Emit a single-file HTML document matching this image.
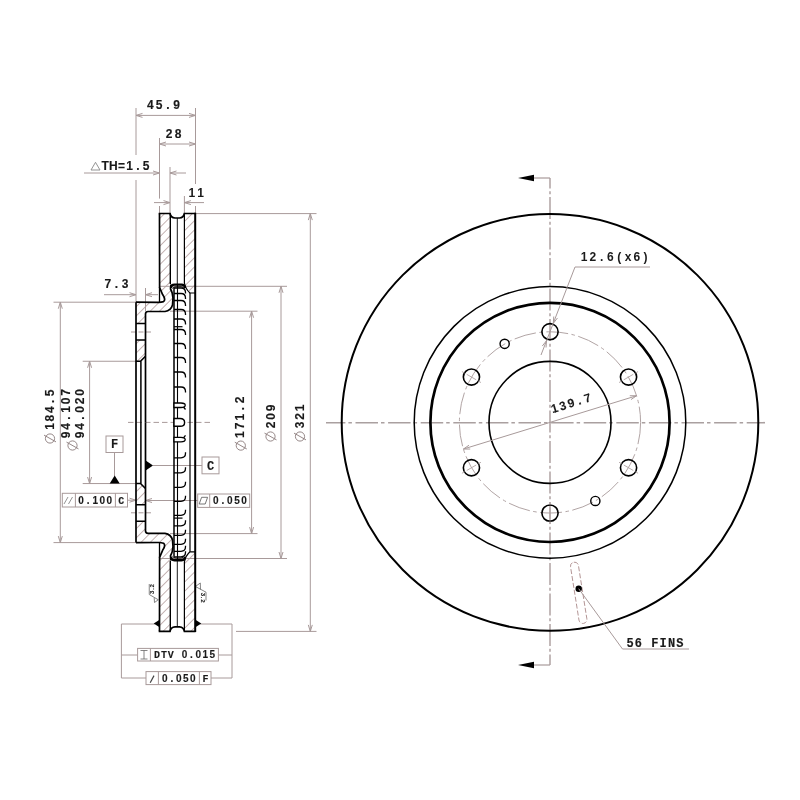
<!DOCTYPE html>
<html><head><meta charset="utf-8"><style>
html,body{margin:0;padding:0;background:#fff;}
svg{display:block;font-family:"Liberation Sans",sans-serif;will-change:transform;}
</style></head><body>
<svg width="800" height="800" viewBox="0 0 800 800">
<defs><pattern id="hatch" patternUnits="userSpaceOnUse" width="6.54" height="10" patternTransform="translate(159.5 227.25) rotate(45)">
<line x1="0" y1="-5" x2="0" y2="15" stroke="#937474" stroke-width="1.1"/></pattern></defs>
<rect width="800" height="800" fill="#fff"/>
<polygon points="159.5,213.5 170,213.5 170,284 171,285 170.5,289 172,292 173,298 172.5,305 171,308.5 165,311.5 148,311.5 145.5,314 145.5,323.5 136,323.5 136,302.2 161.5,302.2 164.5,300.5 162.6,294.5 159.5,287.5" fill="url(#hatch)" stroke="none" stroke-width="0"/>
<polygon points="159.5,631.3 170,631.3 170,560.8 171,559.8 170.5,555.8 172,552.8 173,546.8 172.5,539.8 171,536.3 165,533.3 148,533.3 145.5,530.8 145.5,521.3 136,521.3 136,542.6 161.5,542.6 164.5,544.3 162.6,550.3 159.5,557.3" fill="url(#hatch)" stroke="none" stroke-width="0"/>
<polygon points="136,340 145.5,340 145.5,356.25 140.5,361.25 136,361.25" fill="url(#hatch)" stroke="none" stroke-width="0"/>
<polygon points="136,504.8 145.5,504.8 145.5,488.55 140.5,483.55 136,483.55" fill="url(#hatch)" stroke="none" stroke-width="0"/>
<polygon points="184.4,213.5 195.2,213.5 195.2,293 190,293 188.5,290 184.4,284" fill="url(#hatch)" stroke="none" stroke-width="0"/>
<polygon points="184.4,631.3 195.2,631.3 195.2,551.8 190,551.8 188.5,554.8 184.4,560.8" fill="url(#hatch)" stroke="none" stroke-width="0"/>
<line x1="136" y1="108" x2="136" y2="155" stroke="#a89a9a" stroke-width="1.0" />
<line x1="136" y1="180" x2="136" y2="302" stroke="#a89a9a" stroke-width="1.0" />
<line x1="195.5" y1="108" x2="195.5" y2="184" stroke="#a89a9a" stroke-width="1.0" />
<line x1="195.5" y1="206" x2="195.5" y2="213.5" stroke="#a89a9a" stroke-width="1.0" />
<line x1="136" y1="115.4" x2="195.5" y2="115.4" stroke="#a89a9a" stroke-width="1.0" />
<path d="M142.50,113.40 L136.00,115.40 L142.50,117.40" stroke="#a89a9a" stroke-width="1.0" fill="none"/>
<path d="M189.00,117.40 L195.50,115.40 L189.00,113.40" stroke="#a89a9a" stroke-width="1.0" fill="none"/>
<text x="150.30" y="108.90" font-size="12" text-anchor="middle" font-weight="bold" fill="#1a1a1a" stroke="#1a1a1a" stroke-width="0.15">4</text>
<text x="159.10" y="108.90" font-size="12" text-anchor="middle" font-weight="bold" fill="#1a1a1a" stroke="#1a1a1a" stroke-width="0.15">5</text>
<text x="167.90" y="108.90" font-size="12" text-anchor="middle" font-weight="bold" fill="#1a1a1a" stroke="#1a1a1a" stroke-width="0.15">.</text>
<text x="176.70" y="108.90" font-size="12" text-anchor="middle" font-weight="bold" fill="#1a1a1a" stroke="#1a1a1a" stroke-width="0.15">9</text>
<line x1="159.5" y1="138" x2="159.5" y2="198.6" stroke="#a89a9a" stroke-width="1.0" />
<line x1="159.5" y1="206" x2="159.5" y2="213.5" stroke="#a89a9a" stroke-width="1.0" />
<line x1="159.5" y1="144" x2="195.5" y2="144" stroke="#a89a9a" stroke-width="1.0" />
<path d="M166.00,142.00 L159.50,144.00 L166.00,146.00" stroke="#a89a9a" stroke-width="1.0" fill="none"/>
<path d="M189.00,146.00 L195.50,144.00 L189.00,142.00" stroke="#a89a9a" stroke-width="1.0" fill="none"/>
<text x="169.20" y="138.10" font-size="12" text-anchor="middle" font-weight="bold" fill="#1a1a1a" stroke="#1a1a1a" stroke-width="0.15">2</text>
<text x="178.00" y="138.10" font-size="12" text-anchor="middle" font-weight="bold" fill="#1a1a1a" stroke="#1a1a1a" stroke-width="0.15">8</text>
<line x1="84" y1="173" x2="159.5" y2="173" stroke="#a89a9a" stroke-width="1.0" />
<path d="M153.00,175.00 L159.50,173.00 L153.00,171.00" stroke="#a89a9a" stroke-width="1.0" fill="none"/>
<line x1="170" y1="167" x2="170" y2="213.5" stroke="#a89a9a" stroke-width="1.0" />
<line x1="170" y1="173" x2="186" y2="173" stroke="#a89a9a" stroke-width="1.0" />
<path d="M176.50,171.00 L170.00,173.00 L176.50,175.00" stroke="#a89a9a" stroke-width="1.0" fill="none"/>
<path d="M91,170 L95.5,162.3 L100,170 Z" stroke="#888" stroke-width="0.9" fill="none" />
<text x="105.10" y="170.30" font-size="12" text-anchor="middle" font-weight="bold" fill="#1a1a1a" stroke="#1a1a1a" stroke-width="0.15">T</text>
<text x="113.30" y="170.30" font-size="12" text-anchor="middle" font-weight="bold" fill="#1a1a1a" stroke="#1a1a1a" stroke-width="0.15">H</text>
<text x="121.50" y="170.30" font-size="12" text-anchor="middle" font-weight="bold" fill="#1a1a1a" stroke="#1a1a1a" stroke-width="0.15">=</text>
<text x="129.70" y="170.30" font-size="12" text-anchor="middle" font-weight="bold" fill="#1a1a1a" stroke="#1a1a1a" stroke-width="0.15">1</text>
<text x="137.90" y="170.30" font-size="12" text-anchor="middle" font-weight="bold" fill="#1a1a1a" stroke="#1a1a1a" stroke-width="0.15">.</text>
<text x="146.10" y="170.30" font-size="12" text-anchor="middle" font-weight="bold" fill="#1a1a1a" stroke="#1a1a1a" stroke-width="0.15">5</text>
<line x1="184.4" y1="196" x2="184.4" y2="213.5" stroke="#a89a9a" stroke-width="1.0" />
<line x1="154" y1="202.6" x2="170" y2="202.6" stroke="#a89a9a" stroke-width="1.0" />
<path d="M163.50,204.60 L170.00,202.60 L163.50,200.60" stroke="#a89a9a" stroke-width="1.0" fill="none"/>
<line x1="184.4" y1="202.6" x2="204" y2="202.6" stroke="#a89a9a" stroke-width="1.0" />
<path d="M190.90,200.60 L184.40,202.60 L190.90,204.60" stroke="#a89a9a" stroke-width="1.0" fill="none"/>
<text x="191.80" y="196.60" font-size="12" text-anchor="middle" font-weight="bold" fill="#1a1a1a" stroke="#1a1a1a" stroke-width="0">1</text>
<text x="200.60" y="196.60" font-size="12" text-anchor="middle" font-weight="bold" fill="#1a1a1a" stroke="#1a1a1a" stroke-width="0">1</text>
<line x1="145.5" y1="288" x2="145.5" y2="311" stroke="#a89a9a" stroke-width="1.0" />
<line x1="104" y1="294.7" x2="136" y2="294.7" stroke="#a89a9a" stroke-width="1.0" />
<path d="M129.50,296.70 L136.00,294.70 L129.50,292.70" stroke="#a89a9a" stroke-width="1.0" fill="none"/>
<line x1="145.5" y1="294.7" x2="158" y2="294.7" stroke="#a89a9a" stroke-width="1.0" />
<path d="M152.00,292.70 L145.50,294.70 L152.00,296.70" stroke="#a89a9a" stroke-width="1.0" fill="none"/>
<text x="107.80" y="288.40" font-size="12" text-anchor="middle" font-weight="bold" fill="#1a1a1a" stroke="#1a1a1a" stroke-width="0.15">7</text>
<text x="116.50" y="288.40" font-size="12" text-anchor="middle" font-weight="bold" fill="#1a1a1a" stroke="#1a1a1a" stroke-width="0.15">.</text>
<text x="125.20" y="288.40" font-size="12" text-anchor="middle" font-weight="bold" fill="#1a1a1a" stroke="#1a1a1a" stroke-width="0.15">3</text>
<line x1="195.5" y1="213.6" x2="316.5" y2="213.6" stroke="#a89a9a" stroke-width="1.0" />
<line x1="310.3" y1="213.6" x2="310.3" y2="631.4" stroke="#a89a9a" stroke-width="1.0" />
<path d="M312.30,220.10 L310.30,213.60 L308.30,220.10" stroke="#a89a9a" stroke-width="1.0" fill="none"/>
<path d="M308.30,624.90 L310.30,631.40 L312.30,624.90" stroke="#a89a9a" stroke-width="1.0" fill="none"/>
<line x1="236" y1="631.4" x2="316.5" y2="631.4" stroke="#a89a9a" stroke-width="1.0" />
<line x1="160" y1="286.3" x2="287" y2="286.3" stroke="#a89a9a" stroke-width="1.0" />
<line x1="160" y1="558.5" x2="287" y2="558.5" stroke="#a89a9a" stroke-width="1.0" />
<line x1="281" y1="286.3" x2="281" y2="558.5" stroke="#a89a9a" stroke-width="1.0" />
<path d="M283.00,292.80 L281.00,286.30 L279.00,292.80" stroke="#a89a9a" stroke-width="1.0" fill="none"/>
<path d="M279.00,552.00 L281.00,558.50 L283.00,552.00" stroke="#a89a9a" stroke-width="1.0" fill="none"/>
<line x1="170" y1="311.2" x2="257.5" y2="311.2" stroke="#a89a9a" stroke-width="1.0" />
<line x1="170" y1="533.6" x2="257.5" y2="533.6" stroke="#a89a9a" stroke-width="1.0" />
<line x1="251.6" y1="311.2" x2="251.6" y2="533.6" stroke="#a89a9a" stroke-width="1.0" />
<path d="M253.60,317.70 L251.60,311.20 L249.60,317.70" stroke="#a89a9a" stroke-width="1.0" fill="none"/>
<path d="M249.60,527.10 L251.60,533.60 L253.60,527.10" stroke="#a89a9a" stroke-width="1.0" fill="none"/>
<text x="304.00" y="425.00" font-size="12" text-anchor="middle" font-weight="bold" fill="#1a1a1a" stroke="#1a1a1a" stroke-width="0.15" transform="rotate(-90 304.00 425.00)">3</text>
<text x="304.00" y="416.50" font-size="12" text-anchor="middle" font-weight="bold" fill="#1a1a1a" stroke="#1a1a1a" stroke-width="0.15" transform="rotate(-90 304.00 416.50)">2</text>
<text x="304.00" y="408.00" font-size="12" text-anchor="middle" font-weight="bold" fill="#1a1a1a" stroke="#1a1a1a" stroke-width="0.15" transform="rotate(-90 304.00 408.00)">1</text>
<circle cx="300" cy="436.5" r="4.6" fill="none" stroke="#8a7a7a" stroke-width="0.9"/>
<line x1="294" y1="433.1" x2="306" y2="439.9" stroke="#8a7a7a" stroke-width="0.9"/>
<text x="274.50" y="425.00" font-size="12" text-anchor="middle" font-weight="bold" fill="#1a1a1a" stroke="#1a1a1a" stroke-width="0.15" transform="rotate(-90 274.50 425.00)">2</text>
<text x="274.50" y="416.50" font-size="12" text-anchor="middle" font-weight="bold" fill="#1a1a1a" stroke="#1a1a1a" stroke-width="0.15" transform="rotate(-90 274.50 416.50)">0</text>
<text x="274.50" y="408.00" font-size="12" text-anchor="middle" font-weight="bold" fill="#1a1a1a" stroke="#1a1a1a" stroke-width="0.15" transform="rotate(-90 274.50 408.00)">9</text>
<circle cx="270.5" cy="436.5" r="4.6" fill="none" stroke="#8a7a7a" stroke-width="0.9"/>
<line x1="264.5" y1="433.1" x2="276.5" y2="439.9" stroke="#8a7a7a" stroke-width="0.9"/>
<text x="244.40" y="434.60" font-size="12" text-anchor="middle" font-weight="bold" fill="#1a1a1a" stroke="#1a1a1a" stroke-width="0.15" transform="rotate(-90 244.40 434.60)">1</text>
<text x="244.40" y="425.90" font-size="12" text-anchor="middle" font-weight="bold" fill="#1a1a1a" stroke="#1a1a1a" stroke-width="0.15" transform="rotate(-90 244.40 425.90)">7</text>
<text x="244.40" y="417.20" font-size="12" text-anchor="middle" font-weight="bold" fill="#1a1a1a" stroke="#1a1a1a" stroke-width="0.15" transform="rotate(-90 244.40 417.20)">1</text>
<text x="244.40" y="408.50" font-size="12" text-anchor="middle" font-weight="bold" fill="#1a1a1a" stroke="#1a1a1a" stroke-width="0.15" transform="rotate(-90 244.40 408.50)">.</text>
<text x="244.40" y="399.80" font-size="12" text-anchor="middle" font-weight="bold" fill="#1a1a1a" stroke="#1a1a1a" stroke-width="0.15" transform="rotate(-90 244.40 399.80)">2</text>
<circle cx="240.8" cy="445.6" r="4.6" fill="none" stroke="#8a7a7a" stroke-width="0.9"/>
<line x1="234.8" y1="442.20000000000005" x2="246.8" y2="449.0" stroke="#8a7a7a" stroke-width="0.9"/>
<line x1="53.5" y1="302.2" x2="136" y2="302.2" stroke="#a89a9a" stroke-width="1.0" />
<line x1="53.5" y1="542.6" x2="136" y2="542.6" stroke="#a89a9a" stroke-width="1.0" />
<line x1="60.3" y1="302.2" x2="60.3" y2="542.6" stroke="#a89a9a" stroke-width="1.0" />
<path d="M62.30,308.70 L60.30,302.20 L58.30,308.70" stroke="#a89a9a" stroke-width="1.0" fill="none"/>
<path d="M58.30,536.10 L60.30,542.60 L62.30,536.10" stroke="#a89a9a" stroke-width="1.0" fill="none"/>
<line x1="82.7" y1="361.25" x2="136" y2="361.25" stroke="#a89a9a" stroke-width="1.0" />
<line x1="82.7" y1="483.55" x2="136" y2="483.55" stroke="#a89a9a" stroke-width="1.0" />
<line x1="89.6" y1="361.25" x2="89.6" y2="483.55" stroke="#a89a9a" stroke-width="1.0" />
<path d="M91.60,367.75 L89.60,361.25 L87.60,367.75" stroke="#a89a9a" stroke-width="1.0" fill="none"/>
<path d="M87.60,477.05 L89.60,483.55 L91.60,477.05" stroke="#a89a9a" stroke-width="1.0" fill="none"/>
<text x="54.00" y="426.50" font-size="12" text-anchor="middle" font-weight="bold" fill="#1a1a1a" stroke="#1a1a1a" stroke-width="0.15" transform="rotate(-90 54.00 426.50)">1</text>
<text x="54.00" y="418.10" font-size="12" text-anchor="middle" font-weight="bold" fill="#1a1a1a" stroke="#1a1a1a" stroke-width="0.15" transform="rotate(-90 54.00 418.10)">8</text>
<text x="54.00" y="409.70" font-size="12" text-anchor="middle" font-weight="bold" fill="#1a1a1a" stroke="#1a1a1a" stroke-width="0.15" transform="rotate(-90 54.00 409.70)">4</text>
<text x="54.00" y="401.30" font-size="12" text-anchor="middle" font-weight="bold" fill="#1a1a1a" stroke="#1a1a1a" stroke-width="0.15" transform="rotate(-90 54.00 401.30)">.</text>
<text x="54.00" y="392.90" font-size="12" text-anchor="middle" font-weight="bold" fill="#1a1a1a" stroke="#1a1a1a" stroke-width="0.15" transform="rotate(-90 54.00 392.90)">5</text>
<circle cx="50" cy="438.5" r="4.6" fill="none" stroke="#8a7a7a" stroke-width="0.9"/>
<line x1="44" y1="435.1" x2="56" y2="441.9" stroke="#8a7a7a" stroke-width="0.9"/>
<text x="69.50" y="435.00" font-size="12" text-anchor="middle" font-weight="bold" fill="#1a1a1a" stroke="#1a1a1a" stroke-width="0.15" transform="rotate(-90 69.50 435.00)">9</text>
<text x="69.50" y="426.50" font-size="12" text-anchor="middle" font-weight="bold" fill="#1a1a1a" stroke="#1a1a1a" stroke-width="0.15" transform="rotate(-90 69.50 426.50)">4</text>
<text x="69.50" y="418.00" font-size="12" text-anchor="middle" font-weight="bold" fill="#1a1a1a" stroke="#1a1a1a" stroke-width="0.15" transform="rotate(-90 69.50 418.00)">.</text>
<text x="69.50" y="409.50" font-size="12" text-anchor="middle" font-weight="bold" fill="#1a1a1a" stroke="#1a1a1a" stroke-width="0.15" transform="rotate(-90 69.50 409.50)">1</text>
<text x="69.50" y="401.00" font-size="12" text-anchor="middle" font-weight="bold" fill="#1a1a1a" stroke="#1a1a1a" stroke-width="0.15" transform="rotate(-90 69.50 401.00)">0</text>
<text x="69.50" y="392.50" font-size="12" text-anchor="middle" font-weight="bold" fill="#1a1a1a" stroke="#1a1a1a" stroke-width="0.15" transform="rotate(-90 69.50 392.50)">7</text>
<text x="83.50" y="435.00" font-size="12" text-anchor="middle" font-weight="bold" fill="#1a1a1a" stroke="#1a1a1a" stroke-width="0.15" transform="rotate(-90 83.50 435.00)">9</text>
<text x="83.50" y="426.50" font-size="12" text-anchor="middle" font-weight="bold" fill="#1a1a1a" stroke="#1a1a1a" stroke-width="0.15" transform="rotate(-90 83.50 426.50)">4</text>
<text x="83.50" y="418.00" font-size="12" text-anchor="middle" font-weight="bold" fill="#1a1a1a" stroke="#1a1a1a" stroke-width="0.15" transform="rotate(-90 83.50 418.00)">.</text>
<text x="83.50" y="409.50" font-size="12" text-anchor="middle" font-weight="bold" fill="#1a1a1a" stroke="#1a1a1a" stroke-width="0.15" transform="rotate(-90 83.50 409.50)">0</text>
<text x="83.50" y="401.00" font-size="12" text-anchor="middle" font-weight="bold" fill="#1a1a1a" stroke="#1a1a1a" stroke-width="0.15" transform="rotate(-90 83.50 401.00)">2</text>
<text x="83.50" y="392.50" font-size="12" text-anchor="middle" font-weight="bold" fill="#1a1a1a" stroke="#1a1a1a" stroke-width="0.15" transform="rotate(-90 83.50 392.50)">0</text>
<circle cx="72.5" cy="445.5" r="4.6" fill="none" stroke="#8a7a7a" stroke-width="0.9"/>
<line x1="66.5" y1="442.1" x2="78.5" y2="448.9" stroke="#8a7a7a" stroke-width="0.9"/>
<rect x="106" y="436" width="17" height="16.5" fill="#fff" stroke="#a89a9a" stroke-width="1"/>
<text x="114.50" y="448.40" font-size="12" text-anchor="middle" font-weight="bold" fill="#1a1a1a" stroke="#1a1a1a" stroke-width="0.15" font-family="Liberation Mono">F</text>
<line x1="114.5" y1="452.5" x2="114.5" y2="476" stroke="#a89a9a" stroke-width="1.0" />
<polygon points="114.7,475.6 109.7,483.55 119.7,483.55" fill="#000" stroke="none" stroke-width="0"/>
<rect x="62.3" y="493.3" width="65.2" height="13.7" fill="#fff" stroke="#a89a9a" stroke-width="1"/>
<line x1="75.4" y1="493.3" x2="75.4" y2="507" stroke="#a89a9a" stroke-width="1.0" />
<line x1="115.4" y1="493.3" x2="115.4" y2="507" stroke="#a89a9a" stroke-width="1.0" />
<path d="M64,504 L68,497 M68.5,504 L72.5,497" stroke="#888" stroke-width="0.9" fill="none" />
<text x="81.00" y="503.80" font-size="10" text-anchor="middle" font-weight="bold" fill="#1a1a1a" stroke="#1a1a1a" stroke-width="0.12">0</text>
<text x="88.10" y="503.80" font-size="10" text-anchor="middle" font-weight="bold" fill="#1a1a1a" stroke="#1a1a1a" stroke-width="0.12">.</text>
<text x="95.20" y="503.80" font-size="10" text-anchor="middle" font-weight="bold" fill="#1a1a1a" stroke="#1a1a1a" stroke-width="0.12">1</text>
<text x="102.30" y="503.80" font-size="10" text-anchor="middle" font-weight="bold" fill="#1a1a1a" stroke="#1a1a1a" stroke-width="0.12">0</text>
<text x="109.40" y="503.80" font-size="10" text-anchor="middle" font-weight="bold" fill="#1a1a1a" stroke="#1a1a1a" stroke-width="0.12">0</text>
<text x="121.25" y="503.80" font-size="10" text-anchor="middle" font-weight="bold" fill="#1a1a1a" stroke="#1a1a1a" stroke-width="0.12" font-family="Liberation Mono">C</text>
<line x1="127.5" y1="500.2" x2="136" y2="500.2" stroke="#a89a9a" stroke-width="1.0" />
<path d="M129.50,502.20 L136.00,500.20 L129.50,498.20" stroke="#a89a9a" stroke-width="1.0" fill="none"/>
<rect x="197.7" y="494" width="52" height="13.4" fill="#fff" stroke="#a89a9a" stroke-width="1"/>
<line x1="209.7" y1="494" x2="209.7" y2="507.4" stroke="#a89a9a" stroke-width="1.0" />
<path d="M199.2,504 L201.6,497.3 L207.6,497.3 L205.2,504 Z" stroke="#666" stroke-width="0.9" fill="none" />
<text x="215.70" y="504.00" font-size="10" text-anchor="middle" font-weight="bold" fill="#1a1a1a" stroke="#1a1a1a" stroke-width="0.12">0</text>
<text x="222.80" y="504.00" font-size="10" text-anchor="middle" font-weight="bold" fill="#1a1a1a" stroke="#1a1a1a" stroke-width="0.12">.</text>
<text x="229.90" y="504.00" font-size="10" text-anchor="middle" font-weight="bold" fill="#1a1a1a" stroke="#1a1a1a" stroke-width="0.12">0</text>
<text x="237.00" y="504.00" font-size="10" text-anchor="middle" font-weight="bold" fill="#1a1a1a" stroke="#1a1a1a" stroke-width="0.12">5</text>
<text x="244.10" y="504.00" font-size="10" text-anchor="middle" font-weight="bold" fill="#1a1a1a" stroke="#1a1a1a" stroke-width="0.12">0</text>
<line x1="145.5" y1="500.5" x2="197.7" y2="500.5" stroke="#a89a9a" stroke-width="1.0" />
<path d="M152.00,498.50 L145.50,500.50 L152.00,502.50" stroke="#a89a9a" stroke-width="1.0" fill="none"/>
<polygon points="145.7,460.5 145.7,470.5 153,465.5" fill="#000" stroke="none" stroke-width="0"/>
<line x1="153" y1="465.5" x2="202" y2="465.5" stroke="#a89a9a" stroke-width="1.0" />
<rect x="202" y="457" width="17" height="16.8" fill="#fff" stroke="#a89a9a" stroke-width="1"/>
<text x="210.50" y="469.50" font-size="12" text-anchor="middle" font-weight="bold" fill="#1a1a1a" stroke="#1a1a1a" stroke-width="0.15" font-family="Liberation Mono">C</text>
<line x1="121.4" y1="624" x2="155" y2="624" stroke="#a89a9a" stroke-width="1.0" />
<line x1="200" y1="624" x2="232" y2="624" stroke="#a89a9a" stroke-width="1.0" />
<line x1="121.4" y1="624" x2="121.4" y2="678" stroke="#a89a9a" stroke-width="1.0" />
<line x1="232" y1="624" x2="232" y2="678" stroke="#a89a9a" stroke-width="1.0" />
<line x1="121.4" y1="655" x2="137.6" y2="655" stroke="#a89a9a" stroke-width="1.0" />
<line x1="218.4" y1="655" x2="232" y2="655" stroke="#a89a9a" stroke-width="1.0" />
<rect x="137.6" y="648.4" width="80.8" height="12.6" fill="#fff" stroke="#a89a9a" stroke-width="1"/>
<line x1="150.4" y1="648.4" x2="150.4" y2="661" stroke="#a89a9a" stroke-width="1.0" />
<path d="M140.5,650.5 L147.5,650.5 M144,650.5 L144,659 M140.5,659 L147.5,659" stroke="#666" stroke-width="0.8" fill="none" />
<text x="157.00" y="658.30" font-size="10" text-anchor="middle" font-weight="bold" fill="#1a1a1a" stroke="#1a1a1a" stroke-width="0.12" font-family="Liberation Mono">D</text>
<text x="163.90" y="658.30" font-size="10" text-anchor="middle" font-weight="bold" fill="#1a1a1a" stroke="#1a1a1a" stroke-width="0.12" font-family="Liberation Mono">T</text>
<text x="170.80" y="658.30" font-size="10" text-anchor="middle" font-weight="bold" fill="#1a1a1a" stroke="#1a1a1a" stroke-width="0.12" font-family="Liberation Mono">V</text>
<text x="184.60" y="658.30" font-size="10" text-anchor="middle" font-weight="bold" fill="#1a1a1a" stroke="#1a1a1a" stroke-width="0.12">0</text>
<text x="191.50" y="658.30" font-size="10" text-anchor="middle" font-weight="bold" fill="#1a1a1a" stroke="#1a1a1a" stroke-width="0.12">.</text>
<text x="198.40" y="658.30" font-size="10" text-anchor="middle" font-weight="bold" fill="#1a1a1a" stroke="#1a1a1a" stroke-width="0.12">0</text>
<text x="205.30" y="658.30" font-size="10" text-anchor="middle" font-weight="bold" fill="#1a1a1a" stroke="#1a1a1a" stroke-width="0.12">1</text>
<text x="212.20" y="658.30" font-size="10" text-anchor="middle" font-weight="bold" fill="#1a1a1a" stroke="#1a1a1a" stroke-width="0.12">5</text>
<line x1="121.4" y1="678" x2="146" y2="678" stroke="#a89a9a" stroke-width="1.0" />
<line x1="211" y1="678" x2="232" y2="678" stroke="#a89a9a" stroke-width="1.0" />
<rect x="146" y="671.6" width="65" height="13" fill="#fff" stroke="#a89a9a" stroke-width="1"/>
<line x1="158.4" y1="671.6" x2="158.4" y2="684.6" stroke="#a89a9a" stroke-width="1.0" />
<line x1="199.4" y1="671.6" x2="199.4" y2="684.6" stroke="#a89a9a" stroke-width="1.0" />
<path d="M150.2,682.8 L154,675.6" stroke="#444" stroke-width="1.2" fill="none" />
<text x="164.80" y="681.70" font-size="10" text-anchor="middle" font-weight="bold" fill="#1a1a1a" stroke="#1a1a1a" stroke-width="0.12">0</text>
<text x="171.80" y="681.70" font-size="10" text-anchor="middle" font-weight="bold" fill="#1a1a1a" stroke="#1a1a1a" stroke-width="0.12">.</text>
<text x="178.80" y="681.70" font-size="10" text-anchor="middle" font-weight="bold" fill="#1a1a1a" stroke="#1a1a1a" stroke-width="0.12">0</text>
<text x="185.80" y="681.70" font-size="10" text-anchor="middle" font-weight="bold" fill="#1a1a1a" stroke="#1a1a1a" stroke-width="0.12">5</text>
<text x="192.80" y="681.70" font-size="10" text-anchor="middle" font-weight="bold" fill="#1a1a1a" stroke="#1a1a1a" stroke-width="0.12">0</text>
<text x="205.60" y="681.70" font-size="10" text-anchor="middle" font-weight="bold" fill="#1a1a1a" stroke="#1a1a1a" stroke-width="0.12" font-family="Liberation Mono">F</text>
<polygon points="160,619.5 160,627.5 153.7,623.5" fill="#000" stroke="none" stroke-width="0"/>
<polygon points="195,619.5 195,627.5 201.3,623.5" fill="#000" stroke="none" stroke-width="0"/>
<path d="M149.25,584 L149.25,594.5 L158.25,599.75 M154.2,597.8 L154.5,602.5 L158.25,599.75" stroke="#666" stroke-width="0.8" fill="none" />
<path d="M206,600.5 L206,592.2 L195.4,586.5 M200.3,583 L200.5,589.5 M195.4,586.5 L200.3,583" stroke="#666" stroke-width="0.8" fill="none" />
<text x="154.20" y="592.30" font-size="6" text-anchor="middle" font-weight="bold" fill="#222" stroke="#222" stroke-width="0.12" transform="rotate(-90 154.20 592.30)">3</text>
<text x="154.20" y="589.00" font-size="6" text-anchor="middle" font-weight="bold" fill="#222" stroke="#222" stroke-width="0.12" transform="rotate(-90 154.20 589.00)">.</text>
<text x="154.20" y="585.70" font-size="6" text-anchor="middle" font-weight="bold" fill="#222" stroke="#222" stroke-width="0.12" transform="rotate(-90 154.20 585.70)">2</text>
<text x="201.00" y="594.30" font-size="6" text-anchor="middle" font-weight="bold" fill="#222" stroke="#222" stroke-width="0.12" transform="rotate(90 201.00 594.30)">3</text>
<text x="201.00" y="597.60" font-size="6" text-anchor="middle" font-weight="bold" fill="#222" stroke="#222" stroke-width="0.12" transform="rotate(90 201.00 597.60)">.</text>
<text x="201.00" y="600.90" font-size="6" text-anchor="middle" font-weight="bold" fill="#222" stroke="#222" stroke-width="0.12" transform="rotate(90 201.00 600.90)">2</text>
<line x1="131" y1="332" x2="151" y2="332" stroke="#a89a9a" stroke-width="1" stroke-dasharray="5,2.5"/>
<line x1="131" y1="512.8" x2="151" y2="512.8" stroke="#a89a9a" stroke-width="1" stroke-dasharray="5,2.5"/>
<line x1="128" y1="422.4" x2="212.5" y2="422.4" stroke="#a89a9a" stroke-width="1" stroke-dasharray="5.5,3"/>
<path d="M159.5,213.5 L159.6,287.5 L162.6,294.5 Q166.2,299.5 163.5,301.6 Q161,302.4 158,302.3 L136,302.2" stroke="#000" stroke-width="1.7" fill="none" />
<path d="M159.5,287 L159.5,302.2" stroke="#000" stroke-width="1.3" fill="none" />
<path d="M158.7,213.5 L170,213.5 Q170.8,217.8 175,218 L179.5,218 Q183.6,217.8 184.4,213.5 L195.6,213.5" stroke="#000" stroke-width="1.7" fill="none" />
<path d="M170.3,213.5 L170.3,284" stroke="#000" stroke-width="1.4" fill="none" />
<path d="M177.3,218 L177.3,284" stroke="#000" stroke-width="0.9" fill="none" />
<path d="M184.4,213.5 L184.4,283 Q185.5,289 190,293 L195,293" stroke="#000" stroke-width="1.2" fill="none" />
<path d="M136,361.25 L140.5,361.25 L145.5,356.25" stroke="#000" stroke-width="1.6" fill="none" />
<path d="M145.5,422.4 L145.5,314 Q145.5,311.5 148,311.5 L165,311.5 Q171,310.5 172.5,305 L173,298 Q172.5,292 170.5,289 L171,284.5" stroke="#000" stroke-width="1.7" fill="none" />
<path d="M136,323.5 L145.5,323.5 M136,340 L145.5,340" stroke="#000" stroke-width="1.4" fill="none" />
<path d="M171,288 Q171,284.6 174.5,284.6 L181.5,284.6 Q185,284.6 185,288" stroke="#000" stroke-width="2.4" fill="none" />
<path d="M172.5,288.5 Q173.5,286.8 176,286.8 L181,286.8 Q183.5,286.8 184,288.5" stroke="#000" stroke-width="1.0" fill="none" />
<path d="M174,288 L181,288 Q185.5,288 185.5,292.5 L185.5,293.5" stroke="#000" stroke-width="1.3" fill="none" />
<path d="M174,293.5 L181,293.5 Q185.5,293.5 185.5,298.0 L185.5,299.0" stroke="#000" stroke-width="1.3" fill="none" />
<path d="M174,300.5 L181,300.5 Q185.5,300.5 185.5,305.0 L185.5,306.0" stroke="#000" stroke-width="1.3" fill="none" />
<path d="M174,309.5 L181,309.5 Q185.5,309.5 185.5,314.0 L185.5,315.0" stroke="#000" stroke-width="1.3" fill="none" />
<path d="M174,319 L181,319 Q185.5,319 185.5,323.5 L185.5,324.5" stroke="#000" stroke-width="1.3" fill="none" />
<path d="M174,329.5 L181,329.5 Q185.5,329.5 185.5,334.0 L185.5,335.0" stroke="#000" stroke-width="1.3" fill="none" />
<path d="M174,343.5 L181,343.5 Q185.5,343.5 185.5,348.0 L185.5,349.0" stroke="#000" stroke-width="1.3" fill="none" />
<path d="M174,357.5 L181,357.5 Q185.5,357.5 185.5,362.0 L185.5,363.0" stroke="#000" stroke-width="1.3" fill="none" />
<path d="M174,372 L181,372 Q185.5,372 185.5,376.5 L185.5,377.5" stroke="#000" stroke-width="1.3" fill="none" />
<path d="M174,387 L181,387 Q185.5,387 185.5,391.5 L185.5,392.5" stroke="#000" stroke-width="1.3" fill="none" />
<path d="M174,326.7 L182.5,326.7" stroke="#000" stroke-width="1.2" fill="none" />
<path d="M159.5,631.3 L159.6,557.3 L162.6,550.3 Q166.2,545.3 163.5,543.2 Q161,542.4 158,542.5 L136,542.6" stroke="#000" stroke-width="1.7" fill="none" />
<path d="M159.5,557.8 L159.5,542.6" stroke="#000" stroke-width="1.3" fill="none" />
<path d="M158.7,631.3 L170,631.3 Q170.8,627.0 175,626.8 L179.5,626.8 Q183.6,627.0 184.4,631.3 L195.6,631.3" stroke="#000" stroke-width="1.7" fill="none" />
<path d="M170.3,631.3 L170.3,560.8" stroke="#000" stroke-width="1.4" fill="none" />
<path d="M177.3,626.8 L177.3,560.8" stroke="#000" stroke-width="0.9" fill="none" />
<path d="M184.4,631.3 L184.4,561.8 Q185.5,555.8 190,551.8 L195,551.8" stroke="#000" stroke-width="1.2" fill="none" />
<path d="M136,483.55 L140.5,483.55 L145.5,488.55" stroke="#000" stroke-width="1.6" fill="none" />
<path d="M145.5,422.4 L145.5,530.8 Q145.5,533.3 148,533.3 L165,533.3 Q171,534.3 172.5,539.8 L173,546.8 Q172.5,552.8 170.5,555.8 L171,560.3" stroke="#000" stroke-width="1.7" fill="none" />
<path d="M136,521.3 L145.5,521.3 M136,504.8 L145.5,504.8" stroke="#000" stroke-width="1.4" fill="none" />
<path d="M171,556.8 Q171,560.2 174.5,560.2 L181.5,560.2 Q185,560.2 185,556.8" stroke="#000" stroke-width="2.4" fill="none" />
<path d="M172.5,556.3 Q173.5,558.0 176,558.0 L181,558.0 Q183.5,558.0 184,556.3" stroke="#000" stroke-width="1.0" fill="none" />
<path d="M174,556.8 L181,556.8 Q185.5,556.8 185.5,552.3 L185.5,551.3" stroke="#000" stroke-width="1.3" fill="none" />
<path d="M174,551.3 L181,551.3 Q185.5,551.3 185.5,546.8 L185.5,545.8" stroke="#000" stroke-width="1.3" fill="none" />
<path d="M174,544.3 L181,544.3 Q185.5,544.3 185.5,539.8 L185.5,538.8" stroke="#000" stroke-width="1.3" fill="none" />
<path d="M174,535.3 L181,535.3 Q185.5,535.3 185.5,530.8 L185.5,529.8" stroke="#000" stroke-width="1.3" fill="none" />
<path d="M174,525.8 L181,525.8 Q185.5,525.8 185.5,521.3 L185.5,520.3" stroke="#000" stroke-width="1.3" fill="none" />
<path d="M174,515.3 L181,515.3 Q185.5,515.3 185.5,510.8 L185.5,509.8" stroke="#000" stroke-width="1.3" fill="none" />
<path d="M174,501.3 L181,501.3 Q185.5,501.3 185.5,496.8 L185.5,495.8" stroke="#000" stroke-width="1.3" fill="none" />
<path d="M174,487.3 L181,487.3 Q185.5,487.3 185.5,482.8 L185.5,481.8" stroke="#000" stroke-width="1.3" fill="none" />
<path d="M174,472.8 L181,472.8 Q185.5,472.8 185.5,468.3 L185.5,467.3" stroke="#000" stroke-width="1.3" fill="none" />
<path d="M174,457.8 L181,457.8 Q185.5,457.8 185.5,453.3 L185.5,452.3" stroke="#000" stroke-width="1.3" fill="none" />
<path d="M174,518.1 L182.5,518.1" stroke="#000" stroke-width="1.2" fill="none" />
<path d="M136,302.2 L136,542.6" stroke="#000" stroke-width="1.7" fill="none" />
<path d="M140.9,361.25 L140.9,483.55" stroke="#000" stroke-width="1.5" fill="none" />
<path d="M174,288 L174,556.8" stroke="#000" stroke-width="1.5" fill="none" />
<path d="M177.5,284.5 L177.5,560.3" stroke="#000" stroke-width="1.1" fill="none" />
<path d="M190,293 L190,551.8" stroke="#000" stroke-width="1.2" fill="none" />
<path d="M195.2,212.7 L195.2,632.1" stroke="#000" stroke-width="2.0" fill="none" />
<path d="M174,418.5 L180,418.5 Q184.6,418.5 184.6,422.4 Q184.6,426.3 180,426.3 L174,426.3 Z" stroke="#000" stroke-width="1.4" fill="#fff" />
<path d="M174,403 L181,403 Q185.2,403 185.2,405.2 Q185.2,407.5 181,407.5 L174,407.5 Z" stroke="#000" stroke-width="1.3" fill="#fff" />
<path d="M183.5,407 L185.5,409.5" stroke="#000" stroke-width="1.3" fill="none" />
<path d="M174,441.8 L181,441.8 Q185.2,441.8 185.2,439.6 Q185.2,437.3 181,437.3 L174,437.3 Z" stroke="#000" stroke-width="1.3" fill="#fff" />
<path d="M183.5,437.8 L185.5,435.3" stroke="#000" stroke-width="1.3" fill="none" />
<line x1="326" y1="422.7" x2="765" y2="422.7" stroke="#aaa0a0" stroke-width="1.6" stroke-dasharray="22.5,3,3.5,3.6" stroke-dashoffset="3.1"/>
<line x1="550" y1="178" x2="550" y2="665" stroke="#aa9c9c" stroke-width="1.4" stroke-dasharray="22,2.7,3,2.8" stroke-dashoffset="11.5"/>
<circle cx="550" cy="422.4" r="90.6" fill="none" stroke="#a89a9a" stroke-width="0.9" stroke-dasharray="22,3.5,3.5,3.5"/>
<circle cx="550" cy="422.4" r="208.3" fill="none" stroke="#000" stroke-width="2"/>
<circle cx="550" cy="422.4" r="135.8" fill="none" stroke="#000" stroke-width="1.5"/>
<circle cx="550" cy="422.4" r="119.6" fill="none" stroke="#000" stroke-width="2.7"/>
<circle cx="550" cy="422.4" r="61" fill="none" stroke="#000" stroke-width="1.6"/>
<circle cx="550.00" cy="331.70" r="8.1" fill="none" stroke="#000" stroke-width="1.6"/>
<circle cx="628.55" cy="377.05" r="8.1" fill="none" stroke="#000" stroke-width="1.6"/>
<line x1="619.02" y1="382.55" x2="638.07" y2="371.55" stroke="#b0a4a4" stroke-width="0.9" stroke-dasharray="3,2.5,11,2.5,3"/>
<circle cx="628.55" cy="467.75" r="8.1" fill="none" stroke="#000" stroke-width="1.6"/>
<line x1="619.02" y1="462.25" x2="638.07" y2="473.25" stroke="#b0a4a4" stroke-width="0.9" stroke-dasharray="3,2.5,11,2.5,3"/>
<circle cx="550.00" cy="513.10" r="8.1" fill="none" stroke="#000" stroke-width="1.6"/>
<line x1="550.00" y1="502.10" x2="550.00" y2="524.10" stroke="#b0a4a4" stroke-width="0.9" stroke-dasharray="3,2.5,11,2.5,3"/>
<circle cx="471.45" cy="467.75" r="8.1" fill="none" stroke="#000" stroke-width="1.6"/>
<line x1="480.98" y1="462.25" x2="461.93" y2="473.25" stroke="#b0a4a4" stroke-width="0.9" stroke-dasharray="3,2.5,11,2.5,3"/>
<circle cx="471.45" cy="377.05" r="8.1" fill="none" stroke="#000" stroke-width="1.6"/>
<line x1="480.98" y1="382.55" x2="461.93" y2="371.55" stroke="#b0a4a4" stroke-width="0.9" stroke-dasharray="3,2.5,11,2.5,3"/>
<circle cx="504.65" cy="343.85" r="4.6" fill="none" stroke="#000" stroke-width="1.4"/>
<circle cx="595.35" cy="500.95" r="4.6" fill="none" stroke="#000" stroke-width="1.4"/>
<line x1="550" y1="178" x2="534" y2="178" stroke="#a89a9a" stroke-width="1.2" />
<polygon points="518.00,178.00 534.00,174.70 534.00,181.30" fill="#000"/>
<line x1="550" y1="665" x2="534" y2="665" stroke="#a89a9a" stroke-width="1.2" />
<polygon points="518.00,665.00 534.00,661.70 534.00,668.30" fill="#000"/>
<line x1="463.41" y1="449.04" x2="636.59" y2="395.76" stroke="#a89a9a" stroke-width="1.0" />
<path d="M469.03,445.22 L463.41,449.04 L470.21,449.04" stroke="#a89a9a" stroke-width="1.0" fill="none"/>
<path d="M630.97,399.58 L636.59,395.76 L629.79,395.76" stroke="#a89a9a" stroke-width="1.0" fill="none"/>
<text x="555.80" y="412.20" font-size="12" text-anchor="middle" font-weight="bold" fill="#1a1a1a" stroke="#1a1a1a" stroke-width="0.1" transform="rotate(-17.1 555.80 412.20)">1</text>
<text x="564.02" y="409.67" font-size="12" text-anchor="middle" font-weight="bold" fill="#1a1a1a" stroke="#1a1a1a" stroke-width="0.1" transform="rotate(-17.1 564.02 409.67)">3</text>
<text x="572.24" y="407.14" font-size="12" text-anchor="middle" font-weight="bold" fill="#1a1a1a" stroke="#1a1a1a" stroke-width="0.1" transform="rotate(-17.1 572.24 407.14)">9</text>
<text x="580.46" y="404.61" font-size="12" text-anchor="middle" font-weight="bold" fill="#1a1a1a" stroke="#1a1a1a" stroke-width="0.1" transform="rotate(-17.1 580.46 404.61)">.</text>
<text x="588.68" y="402.09" font-size="12" text-anchor="middle" font-weight="bold" fill="#1a1a1a" stroke="#1a1a1a" stroke-width="0.1" transform="rotate(-17.1 588.68 402.09)">7</text>
<line x1="575" y1="267" x2="541" y2="355" stroke="#a89a9a" stroke-width="1.0" />
<line x1="575" y1="267" x2="650" y2="267" stroke="#a89a9a" stroke-width="1.0" />
<path d="M553.78,316.52 L553.30,323.30 L557.51,317.96" stroke="#a89a9a" stroke-width="1.0" fill="none"/>
<path d="M546.02,347.48 L546.50,340.70 L542.29,346.04" stroke="#a89a9a" stroke-width="1.0" fill="none"/>
<text x="584.00" y="261.00" font-size="12" text-anchor="middle" font-weight="bold" fill="#1a1a1a" stroke="#1a1a1a" stroke-width="0">1</text>
<text x="592.80" y="261.00" font-size="12" text-anchor="middle" font-weight="bold" fill="#1a1a1a" stroke="#1a1a1a" stroke-width="0">2</text>
<text x="601.60" y="261.00" font-size="12" text-anchor="middle" font-weight="bold" fill="#1a1a1a" stroke="#1a1a1a" stroke-width="0">.</text>
<text x="610.40" y="261.00" font-size="12" text-anchor="middle" font-weight="bold" fill="#1a1a1a" stroke="#1a1a1a" stroke-width="0">6</text>
<text x="619.20" y="261.00" font-size="12" text-anchor="middle" font-weight="bold" fill="#1a1a1a" stroke="#1a1a1a" stroke-width="0">(</text>
<text x="628.00" y="261.00" font-size="12" text-anchor="middle" font-weight="bold" fill="#1a1a1a" stroke="#1a1a1a" stroke-width="0">x</text>
<text x="636.80" y="261.00" font-size="12" text-anchor="middle" font-weight="bold" fill="#1a1a1a" stroke="#1a1a1a" stroke-width="0">6</text>
<text x="645.60" y="261.00" font-size="12" text-anchor="middle" font-weight="bold" fill="#1a1a1a" stroke="#1a1a1a" stroke-width="0">)</text>
<rect x="-4" y="-31" width="8" height="62" rx="4" fill="none" stroke="#b09090" stroke-width="0.9" stroke-dasharray="5,2" transform="translate(578.7 592.8) rotate(-9)"/>
<circle cx="578.7" cy="588.7" r="3.2" fill="#000"/>
<line x1="578.7" y1="588.7" x2="622.5" y2="649" stroke="#a89a9a" stroke-width="1.0" />
<line x1="622.5" y1="649" x2="689" y2="649" stroke="#a89a9a" stroke-width="1.0" />
<text x="630.00" y="647.00" font-size="12" text-anchor="middle" font-weight="bold" fill="#1a1a1a" stroke="#1a1a1a" stroke-width="0.15">5</text>
<text x="638.30" y="647.00" font-size="12" text-anchor="middle" font-weight="bold" fill="#1a1a1a" stroke="#1a1a1a" stroke-width="0.15">6</text>
<text x="654.90" y="647.00" font-size="12" text-anchor="middle" font-weight="bold" fill="#1a1a1a" stroke="#1a1a1a" stroke-width="0.15" font-family="Liberation Mono">F</text>
<text x="663.20" y="647.00" font-size="12" text-anchor="middle" font-weight="bold" fill="#1a1a1a" stroke="#1a1a1a" stroke-width="0.15" font-family="Liberation Mono">I</text>
<text x="671.50" y="647.00" font-size="12" text-anchor="middle" font-weight="bold" fill="#1a1a1a" stroke="#1a1a1a" stroke-width="0.15" font-family="Liberation Mono">N</text>
<text x="679.80" y="647.00" font-size="12" text-anchor="middle" font-weight="bold" fill="#1a1a1a" stroke="#1a1a1a" stroke-width="0.15" font-family="Liberation Mono">S</text>
</svg></body></html>
